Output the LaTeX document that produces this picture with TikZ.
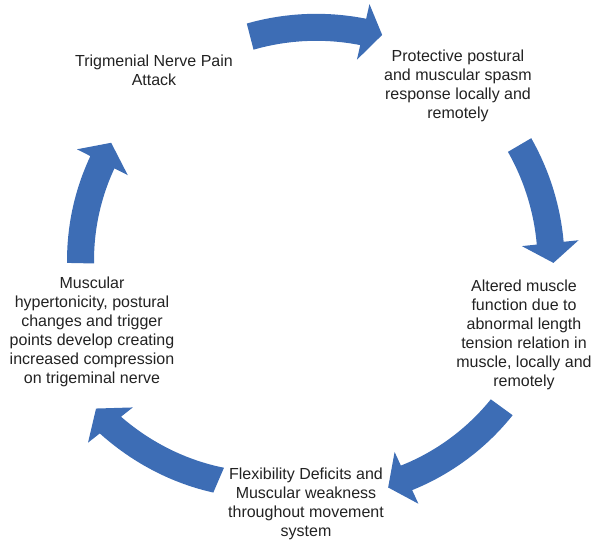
\documentclass[tikz,border=0pt]{standalone}
\usepackage{fontspec}
\setmainfont{Liberation Sans}
\definecolor{arrowblue}{HTML}{3D6DB5}
\definecolor{textgray}{HTML}{222222}
\tikzset{
  cyclelabel/.style={align=center, text=textgray, inner sep=0pt,
    font=\fontsize{12}{14.25}\selectfont},
  cyclearrowfill/.style={fill=arrowblue}
}
% Curved block arrow around the origin of the current scope.
% #1 tail angle, #2 angle of the head base, #3 tip angle,
% #4 radius at the tail, #5 radius at the head
\newcommand\cyclearrow[5]{%
  \fill[cyclearrowfill]
    plot[domain=#1:#2, samples=40, variable=\t]
      ({\t}:{#4+(#5-(#4))*(\t-(#1))/((#2)-(#1))+13.5})
    -- ({#2}:{#5+28.5}) -- ({#3}:{#5+2}) -- ({#2}:{#5-28.5})
    -- plot[domain=#2:#1, samples=40, variable=\t]
      ({\t}:{#4+(#5-(#4))*(\t-(#1))/((#2)-(#1))-13.5})
    -- cycle;}
\begin{document}
\begin{tikzpicture}[x=0.75pt,y=-0.75pt]
  \useasboundingbox (0,0) rectangle (604,541);

  % cycle steps
  \node[cyclelabel] (attack)   at (154,70)  {Trigmenial Nerve Pain\\Attack};
  \node[cyclelabel] (spasm)    at (458,86)  {Protective postural\\and muscular spasm\\response locally and\\remotely};
  \node[cyclelabel] (altered)  at (524,335) {Altered muscle\\function due to\\abnormal length\\tension relation in\\muscle, locally and\\remotely};
  \node[cyclelabel] (deficits) at (306,504) {Flexibility Deficits and\\Muscular weakness\\throughout movement\\system};
  \node[cyclelabel] (hyper)    at (92,332)  {Muscular\\hypertonicity, postural\\changes and trigger\\points develop creating\\increased compression\\on trigeminal nerve};

  % curved arrows between the steps
  \coordinate (hub) at (310,268);
  \begin{scope}[shift={(hub)}]
    \cyclearrow{-104.5}{-77.3}{-72.8}{239}{242}
    \cyclearrow{-30.4}{-5.9}{-1.2}{243}{241.5}
    \cyclearrow{36}{65.3}{70.4}{237}{231}
    \cyclearrow{113.3}{141.8}{146.7}{231}{254}
    \cyclearrow{181.2}{207}{212.2}{229.5}{233}
  \end{scope}
\end{tikzpicture}
\end{document}
